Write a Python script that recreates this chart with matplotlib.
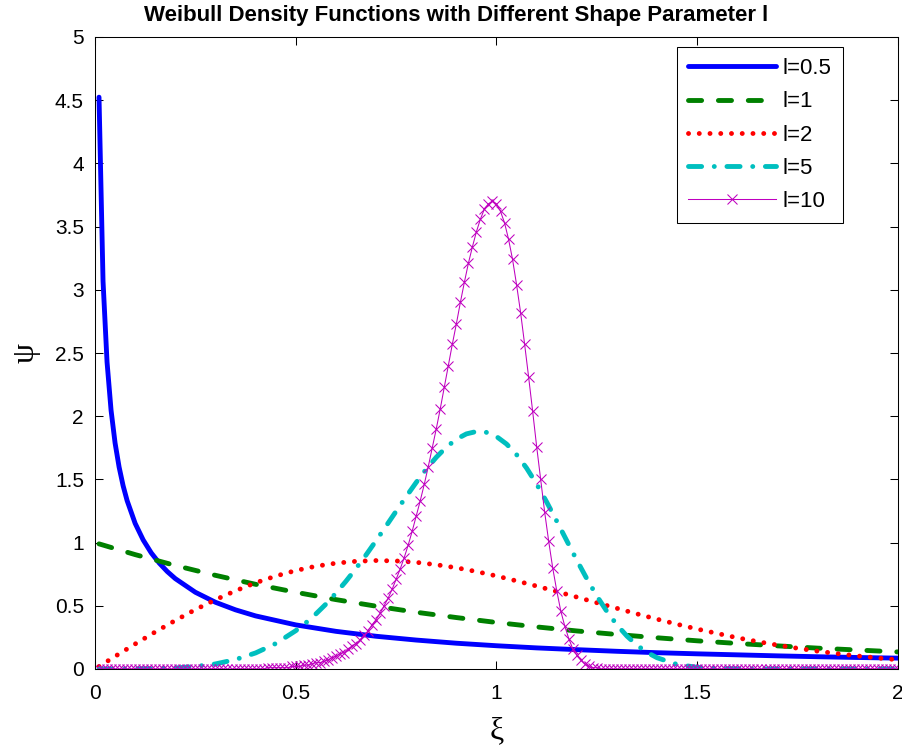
import numpy as np
import matplotlib
matplotlib.use("Agg")
import matplotlib.pyplot as plt

# shape parameter l = 0.5
x_l05 = [0.01, 0.02, 0.03, 0.04, 0.05, 0.06, 0.07, 0.08, 0.10, 0.12, 0.14, 0.16, 0.18,
         0.20, 0.25, 0.30, 0.35, 0.40, 0.50, 0.60, 0.70, 0.80, 0.90, 1.00, 1.10, 1.20,
         1.30, 1.40, 1.50, 1.60, 1.70, 1.80, 1.90, 2.00]
y_l05 = [4.524, 3.069, 2.428, 2.047, 1.788, 1.598, 1.450, 1.332, 1.152, 1.021, 0.919, 0.838, 0.771,
         0.715, 0.607, 0.528, 0.468, 0.420, 0.349, 0.298, 0.259, 0.229, 0.204, 0.184, 0.167, 0.153,
         0.140, 0.129, 0.120, 0.112, 0.104, 0.097, 0.091, 0.086]

# shape parameter l = 1
x_l1 = [0.01, 0.1, 0.2, 0.3, 0.4, 0.5, 0.6, 0.7, 0.8, 0.9, 1.0,
        1.1, 1.2, 1.3, 1.4, 1.5, 1.6, 1.7, 1.8, 1.9, 2.0]
y_l1 = [0.990, 0.905, 0.819, 0.741, 0.670, 0.607, 0.549, 0.497, 0.449, 0.407, 0.368,
        0.333, 0.301, 0.273, 0.247, 0.223, 0.202, 0.183, 0.165, 0.150, 0.135]

# shape parameter l = 2
x_l2 = [0.01, 0.05, 0.10, 0.15, 0.20, 0.25, 0.30, 0.35, 0.40, 0.45, 0.50,
        0.55, 0.60, 0.65, 0.70, 0.75, 0.80, 0.85, 0.90, 0.95, 1.00,
        1.05, 1.10, 1.15, 1.20, 1.25, 1.30, 1.35, 1.40, 1.45, 1.50,
        1.55, 1.60, 1.65, 1.70, 1.75, 1.80, 1.85, 1.90, 1.95, 2.00]
y_l2 = [0.020, 0.100, 0.198, 0.293, 0.384, 0.470, 0.548, 0.619, 0.682, 0.735, 0.779,
        0.813, 0.837, 0.852, 0.858, 0.855, 0.844, 0.825, 0.801, 0.771, 0.736,
        0.697, 0.656, 0.613, 0.569, 0.524, 0.480, 0.436, 0.394, 0.354, 0.316,
        0.281, 0.247, 0.217, 0.189, 0.164, 0.141, 0.121, 0.103, 0.087, 0.073]

# shape parameter l = 5
x_l5 = [0.01, 0.05, 0.10, 0.15, 0.20, 0.25, 0.30, 0.35, 0.40, 0.45,
        0.500, 0.525, 0.550, 0.575, 0.600, 0.625, 0.650, 0.675, 0.700, 0.725,
        0.750, 0.775, 0.800, 0.825, 0.850, 0.875, 0.900, 0.925, 0.950, 0.975,
        1.000, 1.025, 1.050, 1.075, 1.100, 1.125, 1.150, 1.175, 1.200, 1.225,
        1.250, 1.275, 1.300, 1.325, 1.350, 1.375, 1.400,
        1.45, 1.50, 1.55, 1.60, 1.65, 1.70, 1.80, 1.90, 2.00]
y_l5 = [0.000, 0.000, 0.001, 0.003, 0.008, 0.020, 0.040, 0.075, 0.127, 0.201,
        0.303, 0.365, 0.435, 0.513, 0.600, 0.694, 0.795, 0.902, 1.015, 1.131,
        1.248, 1.364, 1.476, 1.581, 1.675, 1.755, 1.818, 1.860, 1.879, 1.872,
        1.839, 1.780, 1.696, 1.589, 1.463, 1.321, 1.170, 1.015, 0.861, 0.714,
        0.577, 0.455, 0.349, 0.260, 0.188, 0.131, 0.089,
        0.036, 0.013, 0.004, 0.001, 0.000, 0.000, 0.000, 0.000, 0.000]

# shape parameter l = 10, sampled every 0.01 from 0.01 to 2.00
xi = np.linspace(0.01, 2.0, 200)
y_l10 = [
    0, 0, 0, 0, 0, 0, 0, 0, 0, 0,
    0, 0, 0, 0, 0, 0, 0, 0, 0, 0,
    0, 0, 0, 0, 0, 0, 0, 0, 0, 0,
    0, 0, 0, 0, 0, 0, 0, 0, 0, 0,
    0.00, 0.00, 0.01, 0.01, 0.01, 0.01, 0.01, 0.01, 0.02, 0.02,
    0.02, 0.03, 0.03, 0.04, 0.05, 0.05, 0.06, 0.07, 0.09, 0.10,
    0.12, 0.13, 0.16, 0.18, 0.20, 0.23, 0.27, 0.30, 0.35, 0.39,
    0.44, 0.50, 0.56, 0.63, 0.71, 0.79, 0.88, 0.98, 1.09, 1.21,
    1.33, 1.46, 1.60, 1.75, 1.90, 2.06, 2.23, 2.40, 2.57, 2.73,
    2.90, 3.06, 3.21, 3.34, 3.46, 3.56, 3.64, 3.68, 3.70, 3.68,
    3.62, 3.53, 3.40, 3.24, 3.04, 2.82, 2.57, 2.31, 2.04, 1.76,
    1.50, 1.24, 1.01, 0.80, 0.62, 0.46, 0.34, 0.24, 0.16, 0.11,
    0.07, 0.04, 0.02, 0.01, 0.01, 0.00, 0, 0, 0, 0,
    0, 0, 0, 0, 0, 0, 0, 0, 0, 0,
    0, 0, 0, 0, 0, 0, 0, 0, 0, 0,
    0, 0, 0, 0, 0, 0, 0, 0, 0, 0,
    0, 0, 0, 0, 0, 0, 0, 0, 0, 0,
    0, 0, 0, 0, 0, 0, 0, 0, 0, 0,
    0, 0, 0, 0, 0, 0, 0, 0, 0, 0,
    0, 0, 0, 0, 0, 0, 0, 0, 0, 0,
]

x_ticks = [0, 0.5, 1, 1.5, 2]
x_tick_labels = ["0", "0.5", "1", "1.5", "2"]
y_ticks = [0, 0.5, 1, 1.5, 2, 2.5, 3, 3.5, 4, 4.5, 5]
y_tick_labels = ["0", "0.5", "1", "1.5", "2", "2.5", "3", "3.5", "4", "4.5", "5"]

plt.rcParams["font.family"] = ["Liberation Sans", "DejaVu Sans"]

W, H = 903, 749
fig = plt.figure(figsize=(W / 100, H / 100), dpi=100)
ax = fig.add_axes([95 / W, 1 - 669 / H, 803 / W, 632 / H])

LW = 3.5
ax.plot(x_l05, y_l05, color=(0, 0, 1), lw=LW, solid_capstyle="round",
        solid_joinstyle="round", label="l=0.5")
ax.plot(x_l1, y_l1, color=(0, 0.5, 0), lw=LW, dashes=(2.7, 3.45),
        dash_capstyle="round", label="l=1")
ax.plot(x_l2, y_l2, color=(1, 0, 0), lw=LW, dashes=(0.01, 2.2),
        dash_capstyle="round", label="l=2")
ax.plot(x_l5, y_l5, color=(0, 0.75, 0.75), lw=LW, dashes=(2.7, 2.6, 0.01, 2.6),
        dash_capstyle="round", label="l=5")
ax.plot(xi, y_l10, color=(0.75, 0, 0.75), lw=0.75, marker="x", ms=7, mew=0.75,
        label="l=10")

ax.set_xlim(0, 2)
ax.set_ylim(0, 5)
ax.set_xticks(x_ticks)
ax.set_xticklabels(x_tick_labels)
ax.set_yticks(y_ticks)
ax.set_yticklabels(y_tick_labels)
ax.tick_params(direction="in", top=True, right=True, length=5.5, width=0.75,
               labelsize=15)
ax.tick_params(axis="x", pad=11)
ax.tick_params(axis="y", pad=8)
for sp in ax.spines.values():
    sp.set_linewidth(0.75)

ax.set_xlabel("\u03be", fontsize=23, family="Liberation Serif", labelpad=9)
ax.set_ylabel("\u03c8", fontsize=23, family="Liberation Serif", labelpad=10)

fig.text(456 / W, 1 - 15 / H, "Weibull Density Functions with Different Shape Parameter l",
         ha="center", va="center", fontsize=16, fontweight="bold")

leg = ax.legend(loc="upper left", bbox_to_anchor=((677 - 95) / 803, (669 - 47) / 632),
                borderaxespad=0, fontsize=16, handlelength=3.94, handletextpad=0.32,
                labelspacing=0.55, borderpad=0.5, numpoints=1, fancybox=False,
                framealpha=1)
leg.get_frame().set_edgecolor("black")
leg.get_frame().set_linewidth(0.75)

fig.savefig("out.png", dpi=100)
